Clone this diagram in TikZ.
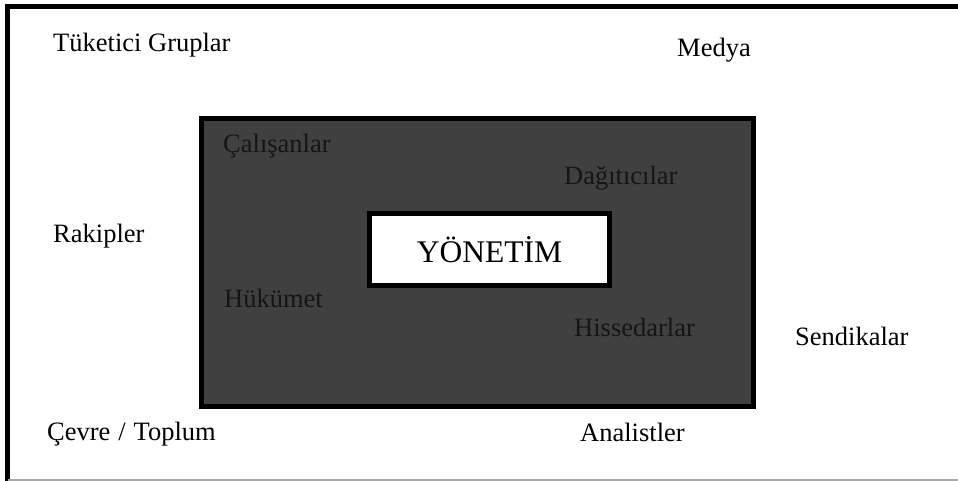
\documentclass[tikz,border=0pt]{standalone}
\usepackage{fontspec}
\setmainfont{Liberation Serif}
\definecolor{boxfill}{HTML}{404040}
\definecolor{textdark}{HTML}{151515}
\begin{document}
\begin{tikzpicture}[x=1pt,y=-1pt,
  lbl/.style={anchor=base west,inner sep=0pt,font=\fontsize{26.5}{30}\selectfont},
  inlbl/.style={lbl,text=textdark},
  frame/.style={line width=5pt,line cap=rect},
  stakebox/.style={draw=black,line width=5pt,fill=boxfill},
  corebox/.style={draw=black,line width=5pt,fill=white}]
  \useasboundingbox (0,0) rectangle (958,481);
  % page frame
  \draw[frame] (958,6.5) -- (7.5,6.5) -- (7.5,481);
  \draw[line width=1.5pt,gray!70] (7.5,480) -- (958,480);
  % inner stakeholders block
  \draw[stakebox] (201.5,118.5) rectangle (753,406);
  \node[corebox,minimum width=240pt,minimum height=72pt,inner sep=0pt,
        font=\fontsize{31.5}{36}\selectfont] (core) at (489.5,249.5) {YÖNETİM};
  % outer stakeholders
  \node[lbl] (tuketici) at (53,52) {Tüketici Gruplar};
  \node[lbl] (medya) at (677,57) {Medya};
  \node[lbl] (rakip) at (53,242) {Rakipler};
  \node[lbl] (sendika) at (795,345) {Sendikalar};
  \node[lbl] (cevre) at (47,440) {Çevre\hspace{0.3em}/\hspace{0.3em}Toplum};
  \node[lbl] (analist) at (580,441) {Analistler};
  % inner stakeholders
  \node[inlbl] (calisan) at (223,153) {Çalışanlar};
  \node[inlbl] (dagitici) at (564,185) {Dağıtıcılar};
  \node[inlbl] (hukumet) at (224,307) {Hükümet};
  \node[inlbl] (hisse) at (574,336) {Hissedarlar};
\end{tikzpicture}
\end{document}
